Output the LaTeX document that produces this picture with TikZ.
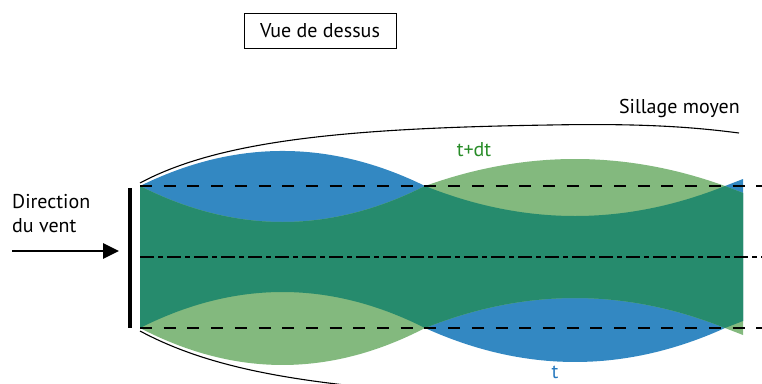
\documentclass[tikz,border=0pt]{standalone}
\usepackage{fontspec}
\setmainfont{PT Sans}
\usetikzlibrary{arrows.meta}
\definecolor{wblue}{RGB}{51,136,194}
\definecolor{wdark}{RGB}{38,139,109}
\definecolor{wlight}{RGB}{131,185,126}
\definecolor{tgreen}{RGB}{40,140,40}
\definecolor{tblue}{RGB}{38,120,190}
\begin{document}
\begin{tikzpicture}[x=1pt,y=-1pt,
  lbl/.style={inner sep=0pt, font=\fontsize{20}{22}\selectfont},
  dashline/.style={line width=2.2pt, dash pattern=on 12pt off 11.7pt},
  axisline/.style={line width=1.3pt, dash pattern=on 14pt off 4pt on 5pt off 4pt},
  outline/.style={line width=1.1pt}]
\useasboundingbox (0,0) rectangle (762,383);
\clip (0,0) rectangle (762,383);
% wake at time t (blue)
\def\bluepath{(140,186) .. controls (235,139.3) and (330,139.3) .. (425,186)
  .. controls (525,226) and (625,226) .. (725,186) -- (743,179) -- (743,321) -- (725,328)
  .. controls (625,373.3) and (525,373.3) .. (425,328)
  .. controls (330,280) and (235,280) .. (140,328) -- cycle}
% wake at time t+dt (green)
\def\greenpath{(140,186) .. controls (235,234) and (330,234) .. (425,186)
  .. controls (525,150) and (625,150) .. (725,186) -- (743,193) -- (743,335) -- (725,328)
  .. controls (625,288) and (525,288) .. (425,328)
  .. controls (330,377.3) and (235,377.3) .. (140,328) -- cycle}
\fill[wblue] \bluepath;
\fill[wlight] \greenpath;
\begin{scope}
  \clip \bluepath;
  \fill[wdark] \greenpath;
\end{scope}
% coordinates
\coordinate (tl) at (140,186);
\coordinate (tr) at (762,186);
\coordinate (bl) at (140,328);
\coordinate (br) at (762,328);
\coordinate (cl) at (140,257);
\coordinate (cr) at (762,257);
\draw[dashline] (tl) -- (tr);
\draw[dashline] (bl) -- (br);
\draw[axisline] (cl) -- (cr);
% rotor disc
\coordinate (rt) at (130,188);
\coordinate (rb) at (130,328);
\draw[line width=3.5pt] (rt) -- (rb);
% outer envelope
\coordinate (ot0) at (140,183);
\coordinate (ot1) at (550,125);
\coordinate (ot2) at (739,133);
\draw[outline] (ot0) .. controls (220,140) and (350,128) .. (ot1)
  .. controls (650,123) and (700,128) .. (ot2);
\coordinate (ob0) at (140,331);
\coordinate (ob1) at (440,394);
\draw[outline] (ob0) .. controls (220,374) and (320,384) .. (ob1);
% wind arrow
\coordinate (a0) at (12,251);
\coordinate (a1) at (119,251);
\draw[line width=2.7pt, -{Triangle[length=16pt,width=15pt]}] (a0) -- (a1);
\node[lbl, anchor=base west] (dir) at (12,208) {Direction};
\node[lbl, anchor=base west] (vent) at (12,232) {du vent};
% title box
\node[draw, line width=0.8pt, minimum width=152pt, minimum height=35pt, inner sep=0pt,
  font=\fontsize{20}{22}\selectfont] (title) at (320,30.5) {Vue de dessus};
\node[lbl, anchor=base east] (sill) at (740,113) {Sillage moyen};
\node[lbl, text=tgreen] (tdt) at (474,150) {t+dt};
\node[lbl, text=tblue] (tt) at (555,372) {t};
\end{tikzpicture}
\end{document}
